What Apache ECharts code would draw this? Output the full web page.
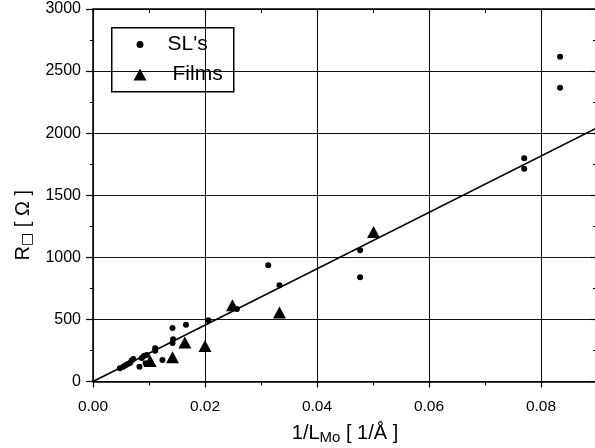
<!DOCTYPE html>
<html><head><meta charset="utf-8">
<script src="https://cdn.jsdelivr.net/npm/echarts@6/dist/echarts.min.js"></script>
<style>html,body{margin:0;padding:0;background:#fff}#c{width:595px;height:448px}</style>
</head><body><div id="c"></div>
<script>
// SL's data (1/L_Mo, R)
const slX = [0.0048,0.0054,0.0058,0.0062,0.0066,0.0069,0.0072,0.0083,0.0087,0.0091,0.0094,0.0096,0.0111,0.0111,0.0124,0.0142,0.0143,0.0142,0.0166,0.0206,0.0257,0.0313,0.0333,0.0477,0.0477,0.0770,0.0770,0.0834,0.0834];
const slY = [106,118,130,141,150,170,181,119,190,205,146,213,248,267,173,311,341,430,457,494,583,936,776,1057,840,1797,1714,2616,2365];
// Films data
const fiX = [0.0102,0.0142,0.0164,0.0200,0.0249,0.0333,0.0501];
const fiY = [165,195,315,285,615,555,1204];
// linear fit endpoints
const fitX = [0, 0.09];
const fitY = [0, 2043];
const xTicks = [0, 0.02, 0.04, 0.06, 0.08];
const yTicks = [0, 500, 1000, 1500, 2000, 2500, 3000];

const FONT = 'Liberation Sans, Arial, Helvetica, sans-serif';
const zip = (a, b) => a.map((v, i) => [v, b[i]]);
const chart = echarts.init(document.getElementById('c'), null, {renderer: 'canvas'});
const axisLineStyle = {color: '#000', width: 1.5};
chart.setOption({
  animation: false,
  backgroundColor: '#fff',
  textStyle: {fontFamily: FONT, color: '#000'},
  grid: {left: 93, top: 9, width: 504, height: 372.5, containLabel: false, outerBoundsMode: 'none'},
  xAxis: [{
    type: 'value', min: xTicks[0], max: 0.09, interval: 0.02,
    position: 'bottom',
    axisLine: {show: true, onZero: false, lineStyle: axisLineStyle},
    axisTick: {show: true, inside: false, length: 6, lineStyle: {color: '#000', width: 1.2}},
    minorTick: {show: true, splitNumber: 2, length: 4, lineStyle: {color: '#000', width: 1}},
    axisLabel: {show: true, margin: 17, fontSize: 15.5, color: '#000', fontFamily: FONT,
      showMaxLabel: false, formatter: v => v.toFixed(2)},
    splitLine: {show: true, lineStyle: {color: '#111', width: 1}},
    name: '1/L{sub|Mo} [ 1/Å ]', nameLocation: 'middle', nameGap: 40,
    nameTextStyle: {fontSize: 20, color: '#000', fontFamily: FONT,
      rich: {sub: {fontSize: 15, padding: [9, 0, 0, 0], fontFamily: FONT, color: '#000'}}}
  }, {
    type: 'value', min: xTicks[0], max: 0.09, interval: 0.02,
    position: 'top',
    axisLine: {show: true, onZero: false, lineStyle: axisLineStyle},
    axisTick: {show: true, inside: true, length: 6, lineStyle: {color: '#000', width: 1.2}},
    minorTick: {show: true, splitNumber: 2, length: 4, lineStyle: {color: '#000', width: 1}},
    axisLabel: {show: false}, splitLine: {show: false}
  }],
  yAxis: [{
    type: 'value', min: yTicks[0], max: yTicks[yTicks.length - 1], interval: 500,
    position: 'left',
    axisLine: {show: true, onZero: false, lineStyle: axisLineStyle},
    axisTick: {show: true, inside: false, length: 7, lineStyle: {color: '#000', width: 1.2}},
    minorTick: {show: true, splitNumber: 2, length: 3, lineStyle: {color: '#000', width: 1}},
    axisLabel: {show: true, margin: 12, fontSize: 16, color: '#000', fontFamily: FONT,
      formatter: v => String(v)},
    splitLine: {show: true, lineStyle: {color: '#111', width: 1}},
    name: 'R{sub|□} [ Ω ]', nameLocation: 'middle', nameGap: 58, nameRotate: 90,
    nameTextStyle: {fontSize: 20, color: '#000', fontFamily: FONT, padding: [0, 60, 0, 0],
      rich: {sub: {fontSize: 14, padding: [9, 0, 0, 0], fontFamily: 'DejaVu Sans', color: '#000'}}}
  }, {
    type: 'value', min: yTicks[0], max: yTicks[yTicks.length - 1], interval: 500,
    position: 'right',
    axisLine: {show: true, onZero: false, lineStyle: axisLineStyle},
    axisTick: {show: true, inside: true, length: 6, lineStyle: {color: '#000', width: 1.2}},
    minorTick: {show: true, splitNumber: 2, length: 4, lineStyle: {color: '#000', width: 1}},
    axisLabel: {show: false}, splitLine: {show: false}
  }],
  legend: [{
    data: ["SL's"], left: 136.5, top: 34, padding: 0,
    itemWidth: 7, itemHeight: 7,
    textStyle: {fontSize: 21, color: '#000', fontFamily: FONT, padding: [0, 0, 0, 19]}
  }, {
    data: ['Films'], left: 133.5, top: 64, padding: 0,
    itemWidth: 13, itemHeight: 12,
    textStyle: {fontSize: 21, color: '#000', fontFamily: FONT, padding: [0, 0, 0, 21]}
  }],
  graphic: [{
    type: 'rect', left: 111, top: 27, z: 100,
    shape: {width: 122, height: 64},
    style: {fill: 'transparent', stroke: '#000', lineWidth: 1.5}
  }],
  series: [{
    name: 'fit', type: 'line', data: zip(fitX, fitY), symbol: 'none',
    lineStyle: {color: '#000', width: 1.6}, z: 3, silent: true
  }, {
    name: "SL's", type: 'scatter', data: zip(slX, slY), symbol: 'circle', symbolSize: 6,
    itemStyle: {color: '#000', opacity: 1}, z: 4
  }, {
    name: 'Films', type: 'scatter', data: zip(fiX, fiY), symbol: 'triangle', symbolSize: [13, 12],
    itemStyle: {color: '#000', opacity: 1}, z: 4
  }]
});
</script></body></html>
